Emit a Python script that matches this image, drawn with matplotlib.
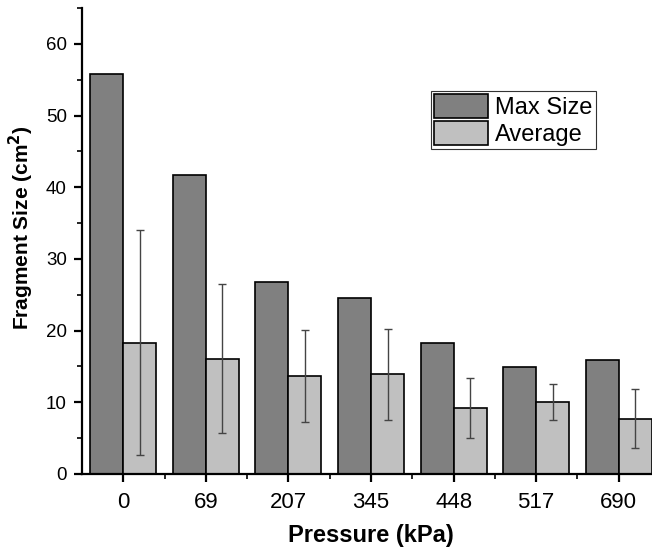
import matplotlib
matplotlib.use("Agg")
import matplotlib.pyplot as plt
import numpy as np
from matplotlib.ticker import MultipleLocator, FixedLocator

categories = ["0", "69", "207", "345", "448", "517", "690"]
max_size = [55.8, 41.7, 26.8, 24.6, 18.3, 14.9, 15.9]
average = [18.3, 16.1, 13.7, 13.9, 9.2, 10.0, 7.7]
avg_err = [15.7, 10.4, 6.4, 6.3, 4.2, 2.5, 4.1]

plt.rcParams['font.family'] = ['Liberation Sans', 'DejaVu Sans']

fig = plt.figure(figsize=(6.52, 5.52), dpi=100)
ax = fig.add_axes([82/652, 1-474/552, 578/652, 466/552])

x = np.arange(len(categories))
w = 0.4
ax.bar(x - w/2, max_size, width=w, color='#808080', edgecolor='black', linewidth=1.2, label='Max Size')
ax.bar(x + w/2, average, width=w, color='#c0c0c0', edgecolor='black', linewidth=1.2, label='Average')
ax.errorbar(x + w/2, average, yerr=avg_err, fmt='none', ecolor='#444444', elinewidth=1.0, capsize=3, capthick=1.0)

ax.set_xlim(-0.5, 6.5)
ax.set_ylim(0, 65)
ax.set_xticks(x)
ax.set_xticklabels(categories)
ax.xaxis.set_minor_locator(FixedLocator(x[:-1] + 0.5))
ax.yaxis.set_major_locator(FixedLocator([0, 10, 20, 30, 40, 50, 60]))
ax.yaxis.set_minor_locator(MultipleLocator(5))

for s in ['top', 'right']:
    ax.spines[s].set_visible(False)
for s in ['left', 'bottom']:
    ax.spines[s].set_linewidth(1.6)

ax.tick_params(axis='both', which='major', direction='out', length=6, width=1.6)
ax.tick_params(axis='both', which='minor', direction='out', length=3.5, width=1.2)
ax.tick_params(axis='x', which='major', pad=7, labelsize=16)
ax.tick_params(axis='y', which='major', pad=5, labelsize=13.5)

ax.set_xlabel('Pressure (kPa)', fontsize=17, fontweight='bold', labelpad=8)
ax.set_ylabel('Fragment Size (cm$^\\mathbf{2}$)', fontsize=15, fontweight='bold', labelpad=7, y=0.528)

leg = ax.legend(loc='upper left', bbox_to_anchor=(0.604, 0.822), fontsize=17,
                frameon=True, fancybox=False, framealpha=1, edgecolor='#333333',
                handlelength=2.3, handleheight=1.2, handletextpad=0.3,
                borderpad=0.12, labelspacing=0.1, borderaxespad=0)
leg.get_frame().set_linewidth(0.8)

fig.savefig('out.png', dpi=100)
